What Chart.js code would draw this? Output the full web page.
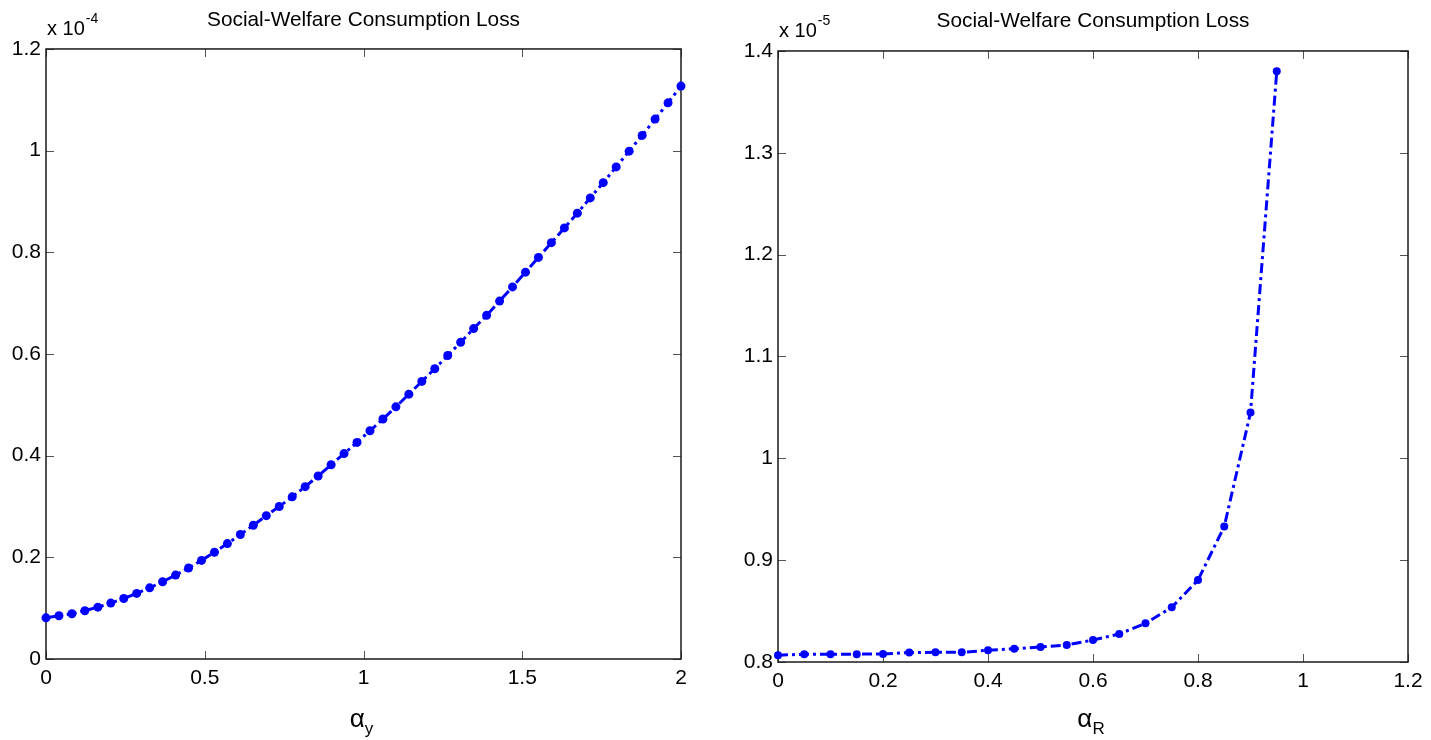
<!DOCTYPE html>
<html>
<head>
<meta charset="utf-8">
<title>Social-Welfare Consumption Loss</title>
<script src="https://cdn.jsdelivr.net/npm/chart.js@4.4.1/dist/chart.umd.min.js"></script>
<style>
  html, body { margin: 0; padding: 0; background: #fff; }
  body { width: 1431px; height: 740px; position: relative; overflow: hidden; }
  .panel { position: absolute; top: 0; height: 740px; }
  #left-panel { left: 0; width: 715px; }
  #right-panel { left: 715px; width: 716px; }
</style>
</head>
<body>
<div class="panel" id="left-panel"><canvas id="left-chart" width="715" height="740"></canvas></div>
<div class="panel" id="right-panel"><canvas id="right-chart" width="716" height="740"></canvas></div>
<script>
'use strict';

// ******* DATA *********
let chartTitle = 'Social-Welfare Consumption Loss';

// left panel: alpha_y, loss in units of 1e-4
let alphaY = [0, 0.0408, 0.0816, 0.1224, 0.1633, 0.2041, 0.2449, 0.2857, 0.3265, 0.3673,
  0.4082, 0.4490, 0.4898, 0.5306, 0.5714, 0.6122, 0.6531, 0.6939, 0.7347, 0.7755,
  0.8163, 0.8571, 0.8980, 0.9388, 0.9796, 1.0204, 1.0612, 1.1020, 1.1429, 1.1837,
  1.2245, 1.2653, 1.3061, 1.3469, 1.3878, 1.4286, 1.4694, 1.5102, 1.5510, 1.5918,
  1.6327, 1.6735, 1.7143, 1.7551, 1.7959, 1.8367, 1.8776, 1.9184, 1.9592, 2.0];
let lossY = [0.081, 0.085, 0.089, 0.095, 0.102, 0.110, 0.119, 0.129, 0.140, 0.152,
  0.165, 0.179, 0.194, 0.210, 0.227, 0.245, 0.263, 0.282, 0.300, 0.319,
  0.339, 0.360, 0.382, 0.404, 0.426, 0.449, 0.472, 0.496, 0.521, 0.546,
  0.571, 0.597, 0.623, 0.650, 0.676, 0.704, 0.732, 0.761, 0.790, 0.819,
  0.848, 0.877, 0.907, 0.937, 0.968, 0.999, 1.030, 1.062, 1.094, 1.127];
let leftXTicks = [0, 0.5, 1, 1.5, 2];
let leftYTicks = [0, 0.2, 0.4, 0.6, 0.8, 1, 1.2];

// right panel: alpha_R, loss in units of 1e-5
let alphaR = [0, 0.05, 0.1, 0.15, 0.2, 0.25, 0.3, 0.35, 0.4, 0.45,
  0.5, 0.55, 0.6, 0.65, 0.7, 0.75, 0.8, 0.85, 0.9, 0.95];
let lossR = [0.8066, 0.8077, 0.8077, 0.8077, 0.8079, 0.8093, 0.8095, 0.8095, 0.8115, 0.8130,
  0.8147, 0.8167, 0.8216, 0.8275, 0.8380, 0.8537, 0.8805, 0.9330, 1.0450, 1.3800];
let rightXTicks = [0, 0.2, 0.4, 0.6, 0.8, 1, 1.2];
let rightYTicks = [0.8, 0.9, 1, 1.1, 1.2, 1.3, 1.4];

// ******* STYLE *******
let fontFamily = '"Liberation Sans", Arial, Helvetica, sans-serif';
let lineBlue = '#0000ff';
let tickLen = 8;

// ****** HELPER FUNCTIONS ******

function toPoints(xs, ys) {
  return xs.map((x, i) => ({ x: x, y: ys[i] }));
}

// matlab style box, inward ticks on all sides, exponent and axis label
function matlabAxes(exponent, subLabel) {
  return {
    id: 'matlabAxes',
    beforeDatasetsDraw(chart) {
      let ctx = chart.ctx;
      let area = chart.chartArea;
      let xs = chart.scales.x;
      let ys = chart.scales.y;
      ctx.save();
      ctx.strokeStyle = '#555';
      ctx.lineWidth = 1;
      ctx.beginPath();
      xs.ticks.forEach(t => {
        let px = Math.round(xs.getPixelForValue(t.value)) + 0.5;
        ctx.moveTo(px, area.bottom); ctx.lineTo(px, area.bottom - tickLen);
        ctx.moveTo(px, area.top); ctx.lineTo(px, area.top + tickLen);
      });
      ys.ticks.forEach(t => {
        let py = Math.round(ys.getPixelForValue(t.value)) + 0.5;
        ctx.moveTo(area.left, py); ctx.lineTo(area.left + tickLen, py);
        ctx.moveTo(area.right, py); ctx.lineTo(area.right - tickLen, py);
      });
      ctx.stroke();
      ctx.strokeStyle = '#1a1a1a';
      ctx.lineWidth = 1.5;
      ctx.strokeRect(area.left, area.top, area.width, area.height);
      ctx.restore();
    },
    afterDraw(chart) {
      let ctx = chart.ctx;
      let area = chart.chartArea;
      ctx.save();
      ctx.fillStyle = '#000';
      ctx.textBaseline = 'alphabetic';
      ctx.textAlign = 'left';
      // x 10^-n above the y axis
      ctx.font = '20px ' + fontFamily;
      let base = 'x 10';
      ctx.fillText(base, area.left + 1, area.top - 14);
      let w = ctx.measureText(base).width;
      ctx.font = '14px ' + fontFamily;
      ctx.fillText(exponent, area.left + 2 + w, area.top - 26);
      // alpha with subscript under the x axis
      ctx.font = '26px ' + fontFamily;
      let aw = ctx.measureText('\u03b1').width;
      ctx.font = '17px ' + fontFamily;
      let sw = ctx.measureText(subLabel).width;
      let start = (area.left + area.right) / 2 - 2 - (aw + sw) / 2;
      ctx.font = '26px ' + fontFamily;
      ctx.fillText('\u03b1', start, 727);
      ctx.font = '17px ' + fontFamily;
      ctx.fillText(subLabel, start + aw, 734);
      ctx.restore();
    }
  };
}

function buildChart(canvasId, cfg) {
  let tickFont = { family: fontFamily, size: 21 };
  return new Chart(document.getElementById(canvasId), { //eslint-disable-line
    type: 'line',
    data: {
      datasets: [{
        data: toPoints(cfg.xs, cfg.ys),
        borderColor: lineBlue,
        backgroundColor: lineBlue,
        borderWidth: 3,
        borderDash: [10, 4, 3, 4],
        pointRadius: cfg.pointRadius,
        pointBorderWidth: 0,
        pointBackgroundColor: lineBlue,
        tension: 0,
        clip: false
      }]
    },
    options: {
      responsive: false,
      animation: false,
      devicePixelRatio: 1,
      layout: { padding: { left: 0, right: cfg.rightPad, top: 0, bottom: 0 } },
      plugins: {
        legend: { display: false },
        tooltip: { enabled: false },
        title: {
          display: true,
          text: chartTitle,
          fullSize: false,
          color: '#000',
          font: { family: fontFamily, size: 20.8, weight: 'normal', lineHeight: 1.2 },
          padding: { top: cfg.titleTop, bottom: cfg.titleBottom }
        }
      },
      scales: {
        x: {
          type: 'linear',
          min: cfg.xTicks[0],
          max: cfg.xTicks[cfg.xTicks.length - 1],
          afterBuildTicks: s => { s.ticks = cfg.xTicks.map(v => ({ value: v })); },
          afterFit: s => { s.height = cfg.xHeight; },
          grid: { display: false, drawTicks: false },
          border: { display: false },
          ticks: { font: tickFont, color: '#000', padding: 7, maxRotation: 0, autoSkip: false, callback: v => String(v) }
        },
        y: {
          type: 'linear',
          min: cfg.yTicks[0],
          max: cfg.yTicks[cfg.yTicks.length - 1],
          afterBuildTicks: s => { s.ticks = cfg.yTicks.map(v => ({ value: v })); },
          afterFit: s => { s.width = cfg.yWidth; },
          grid: { display: false, drawTicks: false },
          border: { display: false },
          ticks: { font: tickFont, color: '#000', padding: 5, autoSkip: false, callback: v => String(v) }
        }
      }
    },
    plugins: [matlabAxes(cfg.exponent, cfg.sub)]
  });
}

// ***** EXECUTABLE CODE ******
buildChart('left-chart', {
  xs: alphaY, ys: lossY, xTicks: leftXTicks, yTicks: leftYTicks,
  yWidth: 46, xHeight: 81, rightPad: 34, titleTop: 8, titleBottom: 16,
  pointRadius: 4.5, exponent: '-4', sub: 'y'
});

buildChart('right-chart', {
  xs: alphaR, ys: lossR, xTicks: rightXTicks, yTicks: rightYTicks,
  yWidth: 63, xHeight: 78, rightPad: 23, titleTop: 9, titleBottom: 17,
  pointRadius: 4, exponent: '-5', sub: 'R'
});
</script>
</body>
</html>
